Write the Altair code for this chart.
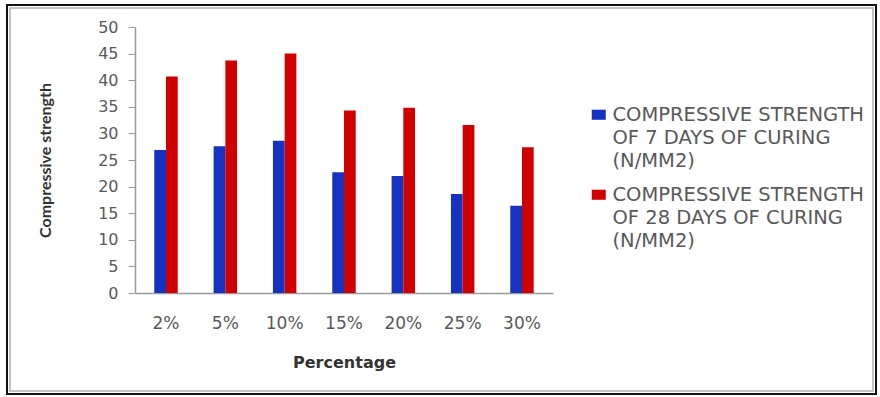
import altair as alt
import pandas as pd

# Replacement level (x axis) and the two curing-age series
percentages = ["2%", "5%", "10%", "15%", "20%", "25%", "30%"]
strength_7_days = [26.9, 27.6, 28.6, 22.7, 22.0, 18.6, 16.4]
strength_28_days = [40.7, 43.7, 45.0, 34.3, 34.8, 31.6, 27.4]

series_names = [
    "COMPRESSIVE STRENGTH|OF 7 DAYS OF CURING|(N/MM2)",
    "COMPRESSIVE STRENGTH|OF 28 DAYS OF CURING|(N/MM2)",
]
series_colors = ["#1532C0", "#D10000"]

rows = []
for name, values in zip(series_names, [strength_7_days, strength_28_days]):
    for pct, v in zip(percentages, values):
        rows.append({"Percentage": pct, "Series": name, "Strength": v})
df = pd.DataFrame(rows)

W, H = 418, 266
LEFT, TOP = 135, 27

bars = alt.Chart(df).mark_bar().encode(
    x=alt.X(
        "Percentage:N",
        sort=percentages,
        scale=alt.Scale(paddingInner=0.605, paddingOuter=0.325),
        axis=alt.Axis(
            title="Percentage",
            labelAngle=0,
            ticks=False,
            labelPadding=22,
            labelFont="DejaVu Sans",
            labelFontSize=17,
            labelColor="#595959",
            titleFont="DejaVu Sans",
            titleFontSize=16,
            titleFontWeight="bold",
            titleColor="#333333",
            titlePadding=23,
            domainColor="#9a9a9a",
            domainWidth=1.5,
        ),
    ),
    xOffset=alt.XOffset(
        "Series:N", sort=series_names,
        scale=alt.Scale(paddingInner=0, paddingOuter=0),
    ),
    y=alt.Y(
        "Strength:Q",
        scale=alt.Scale(domain=[0, 50], nice=False),
        axis=alt.Axis(
            title="Compressive strength",
            values=list(range(0, 55, 5)),
            grid=False,
            tickSize=7,
            tickColor="#9a9a9a",
            domainColor="#9a9a9a",
            domainWidth=1.5,
            labelPadding=10,
            labelFont="DejaVu Sans",
            labelFontSize=16,
            labelColor="#595959",
            titleFont="Lato",
            titleFontSize=16,
            titleFontWeight="bold",
            titleColor="#333333",
            titlePadding=44,
        ),
    ),
    color=alt.Color(
        "Series:N",
        sort=series_names,
        scale=alt.Scale(domain=series_names, range=series_colors),
        legend=alt.Legend(
            title=None,
            orient="none",
            legendX=454,
            legendY=78,
            symbolType="M-1,-0.72H1V0.72H-1Z",
            symbolSize=196,
            symbolStrokeWidth=0,
            labelExpr="split(datum.label, '|')",
            labelFont="DejaVu Sans",
            labelFontSize=19.5,
            labelColor="#595959",
            labelLimit=0,
            labelOffset=4,
            rowPadding=13,
        ),
    ),
)

# Outer double frame around the whole figure
frame_df = pd.DataFrame({"k": [0]})
outer = alt.Chart(frame_df).mark_rect(
    fillOpacity=0, stroke="#111111", strokeWidth=2
).encode(
    x=alt.value(-128), x2=alt.value(741), y=alt.value(-22), y2=alt.value(367)
)
inner = alt.Chart(frame_df).mark_rect(
    fillOpacity=0, stroke="#b0b0b0", strokeWidth=1.5
).encode(
    x=alt.value(-125), x2=alt.value(738), y=alt.value(-19), y2=alt.value(364)
)

chart = (
    alt.layer(outer, inner, bars)
    .properties(
        width=W,
        height=H,
        autosize=alt.AutoSizeParams(type="none"),
        padding={"left": LEFT, "top": TOP, "right": 880 - LEFT - W, "bottom": 397 - TOP - H},
        background="white",
    )
    .configure(
        view=alt.ViewConfig(strokeWidth=0, stroke="transparent"),
        style={"guide-label": {"lineHeight": 23}},
    )
)

chart.save("out.html", embed_options={"renderer": "svg", "actions": False})
